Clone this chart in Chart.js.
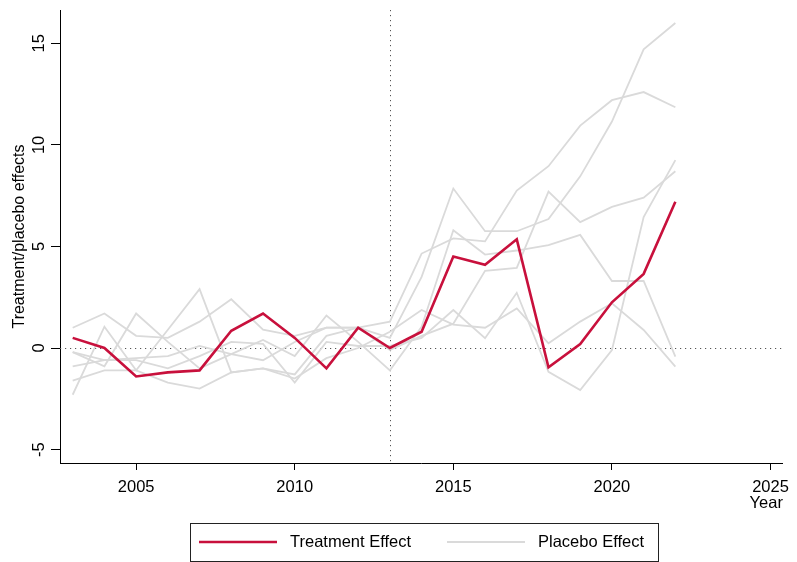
<!DOCTYPE html>
<html>
<head>
<meta charset="utf-8">
<title>Treatment and placebo effects</title>
<script src="https://cdn.jsdelivr.net/npm/chart.js@4"></script>
<style>
  body { margin: 0; background: #fff; }
  #wrap { width: 797px; height: 562px; position: relative; }
</style>
</head>
<body>
<div id="wrap"><canvas id="chart"></canvas></div>
<script>
'use strict';

const years = [2003, 2004, 2005, 2006, 2007, 2008, 2009, 2010, 2011, 2012,
  2013, 2014, 2015, 2016, 2017, 2018, 2019, 2020, 2021, 2022];

const treatment = [0.5, 0.0, -1.4, -1.2, -1.1, 0.85, 1.7, 0.5, -1.0, 1.0,
  0.0, 0.8, 4.5, 4.1, 5.35, -0.95, 0.2, 2.25, 3.65, 7.2];

// one row per placebo unit
const placeboA = [1.0, 1.7, 0.6, 0.5, 1.3, 2.4, 0.9, 0.6, 1.0, 1.0,
  0.5, 3.5, 7.85, 5.75, 5.75, 6.35, 8.45, 11.15, 14.7, 16.0];
const placeboB = [-0.2, -0.6, -0.5, -0.4, 0.1, -0.3, -0.6, 0.3, 1.0, 1.0,
  1.3, 4.65, 5.4, 5.25, 7.75, 8.95, 10.95, 12.2, 12.6, 11.85];
const placeboC = [-2.3, 1.05, -1.1, 0.9, 2.9, -1.2, -1.0, -1.3, 0.6, 1.0,
  -0.1, 0.6, 1.2, 3.8, 3.95, 7.7, 6.2, 6.95, 7.4, 8.7];
const placeboD = [-0.2, -0.9, 1.7, 0.3, -1.0, -0.3, 0.4, -0.4, 1.6, 0.3,
  -1.1, 1.05, 5.8, 4.6, 4.8, 5.07, 5.57, 3.3, 3.3, -0.42];
const placeboE = [-0.9, -0.6, -0.6, -1.0, -0.4, 0.3, 0.2, -1.7, 0.3, 0.1,
  0.1, 0.5, 1.87, 0.48, 2.72, -1.17, -2.07, -0.1, 6.45, 9.25];
const placeboF = [-1.6, -1.1, -1.1, -1.7, -2.0, -1.2, -1.0, -1.5, -0.5, 0.0,
  0.8, 1.87, 1.15, 1.0, 1.95, 0.23, 1.3, 2.2, 0.89, -0.92];

const placebos = [placeboA, placeboB, placeboC, placeboD, placeboE, placeboF];

const treatYear = 2013;
const yTicks = [-5, 0, 5, 10, 15];

const FONT = '"Liberation Sans", Arial, sans-serif';
const RED = '#c8103c';
const GREY = '#dadada';

function toPoints(values) {
  return values.map((v, i) => ({ x: years[i], y: v }));
}

let datasets = [{
  label: 'Treatment Effect',
  data: toPoints(treatment),
  borderColor: RED,
  borderWidth: 2.6,
  pointRadius: 0,
  tension: 0
}];

for (let i = 0; i < placebos.length; i++) {
  datasets.push({
    label: 'Placebo Effect',
    data: toPoints(placebos[i]),
    borderColor: GREY,
    borderWidth: 1.8,
    pointRadius: 0,
    tension: 0
  });
}

// dotted zero line and treatment-year line, behind the series
const refLines = {
  id: 'refLines',
  beforeDatasetsDraw(chart) {
    const { ctx, chartArea, scales } = chart;
    const y0 = Math.round(scales.y.getPixelForValue(0)) + 0.5;
    const xT = Math.round(scales.x.getPixelForValue(treatYear)) + 0.5;
    ctx.save();
    ctx.strokeStyle = '#555';
    ctx.lineWidth = 1;
    ctx.setLineDash([1.2, 3.8]);
    ctx.beginPath();
    ctx.moveTo(chartArea.left, y0);
    ctx.lineTo(chartArea.right, y0);
    ctx.moveTo(xT, chartArea.top);
    ctx.lineTo(xT, chartArea.bottom);
    ctx.stroke();
    ctx.restore();
  }
};

// rotated y labels, axis name under 2025 and the boxed legend
const extras = {
  id: 'extras',
  afterDraw(chart) {
    const { ctx, chartArea, scales } = chart;
    ctx.save();
    ctx.fillStyle = '#000';
    ctx.font = '16.5px ' + FONT;
    ctx.textAlign = 'center';
    ctx.textBaseline = 'middle';
    yTicks.forEach(t => {
      const py = scales.y.getPixelForValue(t);
      ctx.save();
      ctx.translate(39, py);
      ctx.rotate(-Math.PI / 2);
      ctx.fillText(String(t), 0, 0);
      ctx.restore();
    });

    ctx.textAlign = 'right';
    ctx.fillText('Year', chartArea.right, 503);

    // legend box
    ctx.strokeStyle = '#222';
    ctx.lineWidth = 1;
    ctx.strokeRect(190.5, 523.5, 468, 38);
    ctx.lineWidth = 2.6;
    ctx.strokeStyle = RED;
    ctx.beginPath();
    ctx.moveTo(199, 542);
    ctx.lineTo(277, 542);
    ctx.stroke();
    ctx.lineWidth = 1.8;
    ctx.strokeStyle = GREY;
    ctx.beginPath();
    ctx.moveTo(447, 542);
    ctx.lineTo(525, 542);
    ctx.stroke();
    ctx.textAlign = 'left';
    ctx.fillText('Treatment Effect', 290, 542);
    ctx.fillText('Placebo Effect', 538, 542);
    ctx.restore();
  }
};

const ctx = document.getElementById('chart');

let config = {
  type: 'line',
  data: { datasets: datasets },
  options: {
    responsive: true,
    maintainAspectRatio: false,
    animation: false,
    layout: { padding: { left: 0, top: 10, right: 7, bottom: 0 } },
    plugins: {
      legend: { display: false },
      tooltip: { enabled: false }
    },
    scales: {
      x: {
        type: 'linear',
        min: 2002.6,
        max: 2025.39,
        afterFit(scale) { scale.height = 99; },
        border: { display: true, color: '#000', width: 1 },
        grid: { drawOnChartArea: false, drawTicks: true, tickLength: 7, color: '#000' },
        ticks: {
          stepSize: 5,
          includeBounds: false,
          maxRotation: 0,
          padding: 8,
          color: '#000',
          font: { family: FONT, size: 16.5 },
          callback: v => String(v)
        },
        title: { display: false }
      },
      y: {
        min: -5.66,
        max: 16.64,
        afterFit(scale) { scale.width = 60; },
        border: { display: true, color: '#000', width: 1 },
        grid: { drawOnChartArea: false, drawTicks: true, tickLength: 9, color: '#000' },
        ticks: {
          stepSize: 5,
          includeBounds: false,
          display: false
        },
        title: {
          display: true,
          text: 'Treatment/placebo effects',
          color: '#000',
          font: { family: FONT, size: 16 },
          padding: { top: 10, bottom: 0 }
        }
      }
    }
  },
  plugins: [refLines, extras]
};

// eslint-disable-next-line no-undef
new Chart(ctx, config);
</script>
</body>
</html>
